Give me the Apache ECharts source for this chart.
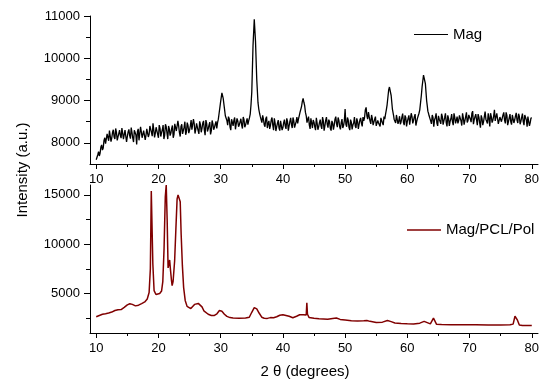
<!DOCTYPE html>
<html>
<head>
<meta charset="utf-8">
<script src="https://cdn.jsdelivr.net/npm/echarts@6/dist/echarts.min.js"></script>
<style>html,body{margin:0;padding:0;background:#fff}#c{width:556px;height:392px}</style>
</head>
<body>
<div id="c"></div>
<script>
// ---- data ----
const xMajorTicks = [10, 20, 30, 40, 50, 60, 70, 80];
const xMinorTicks = [15, 25, 35, 45, 55, 65, 75];
const magMajorTicks = [8000, 9000, 10000, 11000];
const magMinorTicks = [8500, 9500, 10500];
const compMajorTicks = [5000, 10000, 15000];
const compMinorTicks = [2500, 7500, 12500];
const seriesNames = ['Mag', 'Mag/PCL/Pol'];
const seriesColors = ['#000000', '#800000'];

// Mag pattern: [2θ, intensity] (main readings)
const magPointsA = [
[10,7600],[10.25,7720],[10.5,7690],[10.75,7900],[11,7830],[11.25,8060],[11.5,7980],[11.75,8210],
[12,8050],[12.25,8260],[12.5,8120],[12.75,8310],[13,8090],[13.25,8250],[13.5,8140],[13.75,8300],
[14,8110],[14.25,8230],[14.5,8060],[14.75,8270],[15,8150],[15.25,8320],[15.5,8100],[15.75,8240],
[16,8020],[16.25,8280],[16.5,7960],[16.75,8330],[17,8090],[17.25,8260],[17.5,8150],[17.75,8330],
[18,8180],[18.25,8370],[18.5,8200],[18.75,8440],[19,8160],[19.25,8310],[19.5,8230],[19.75,8410],
[20,8120],[20.25,8350],[20.5,8240],[20.75,8420],[21,8180],[21.25,8380],[21.5,8090],[21.75,8330],
[22,8230],[22.25,8410],[22.5,8200],[22.75,8470],[23,8260],[23.25,8400],[23.5,8150],[23.75,8440],
[24,8290],[24.25,8500],[24.5,8260],[24.75,8410],[25,8300],[25.25,8540],[25.5,8270],[25.75,8450],
[26,8320],[26.25,8490],[26.5,8210],[26.75,8430],[27,8340],[27.25,8520],[27.5,8180],[27.75,8460],
[28,8330],[28.25,8490],[28.5,8290],[28.75,8450],[29,8360],[29.25,8510],[29.5,8480],[29.75,8700],
[30,8980],[30.2,9180],[30.4,9060],[30.6,8820],[30.75,8640],[31,8530],[31.25,8620],[31.5,8380],
[31.75,8560],[32,8400],[32.25,8600],[32.5,8360],[32.75,8520],[33,8430],[33.25,8570],[33.5,8340],
[33.75,8550],[34,8420],[34.25,8580],[34.5,8520],[34.75,8680],[35,9200],[35.2,10300],[35.4,10920],
[35.6,10400],[35.8,9500],[36,8950],[36.25,8700],[36.5,8580],[36.75,8650],[37,8430],[37.25,8570],
[37.5,8350],[37.75,8520],[38,8410],[38.25,8600],[38.5,8300],[38.75,8470],[39,8380],[39.25,8540],
[39.5,8290],[39.75,8480],[40,8360],[40.25,8550],[40.5,8330],[40.75,8500],[41,8400],[41.25,8590],
[41.5,8350],[41.75,8520],[42,8430],[42.25,8610],[42.5,8560],[42.75,8720],[43,8860],[43.25,9050],
[43.5,8880],[43.75,8640],[44,8560],[44.25,8420],[44.5,8580],[44.75,8350],[45,8490],[45.25,8300],
[45.5,8470],[45.75,8380],[46,8550],[46.25,8330],[46.5,8520],[46.75,8400],[47,8610],[47.25,8360],
[47.5,8500],[47.75,8290],[48,8470],[48.25,8420],[48.5,8620],[48.75,8370],[49,8530],[49.25,8320],
[49.5,8560],[49.75,8410],[50,8800],[50.25,8380],[50.5,8540],[50.75,8300],[51,8490],[51.25,8420],
[51.5,8610],[51.75,8350],[52,8510],[52.25,8440],[52.5,8590],[52.75,8390],[53,8520],[53.25,8780],
[53.5,8640],[53.75,8730],[54,8520],[54.25,8660],[54.5,8420],[54.75,8560],[55,8400],[55.25,8530],
[55.5,8440],[55.75,8590],[56,8470],[56.25,8620],[56.5,8680],[56.75,8900],[57,9250],[57.2,9340],
[57.4,9120],[57.6,8800],[57.8,8640],[58,8520],[58.25,8660],[58.5,8450],[58.75,8630],[59,8500],
[59.25,8690],[59.5,8420],[59.75,8600],[60,8510],[60.25,8650],[60.5,8470],[60.75,8620],[61,8530],
[61.25,8680],[61.5,8500],[61.75,8640],[62,8780],[62.25,9120],[62.5,9480],[62.7,9640],[62.9,9400],
[63.1,9000],[63.3,8750],[63.5,8640],[63.75,8520],[64,8660],[64.25,8380],[64.5,8600],[64.75,8470],
[65,8640],[65.25,8510],[65.5,8690],[65.75,8430],[66,8600],[66.25,8480],[66.5,8650],[66.75,8400],
[67,8570],[67.25,8500],[67.5,8700],[67.75,8460],[68,8620],[68.25,8520],[68.5,8680],[68.75,8410],
[69,8590],[69.25,8470],[69.5,8720],[69.75,8530],[70,8640],[70.25,8490],[70.5,8750],[70.75,8550],
[71,8680],[71.25,8420],[71.5,8610],[71.75,8360],[72,8580],[72.25,8500],[72.5,8740],[72.75,8520],
[73,8700],[73.25,8390],[73.5,8620],[73.75,8540],[74,8780],[74.25,8560],[74.5,8690],[74.75,8480],
[75,8640],[75.25,8520],[75.5,8720],[75.75,8460],[76,8650],[76.25,8500],[76.5,8680],[76.75,8430],
[77,8620],[77.25,8540],[77.5,8710],[77.75,8470],[78,8630],[78.25,8510],[78.5,8690],[78.75,8420],
[79,8600],[79.25,8380],[79.5,8650],[79.75,8480],[80,8580]
];

// Mag pattern: in-between readings of the noisy band
const magPointsB = [
[10.125,7580],[10.375,7790],[10.625,7760],[10.875,7950],[11.125,7880],[11.375,8120],[11.625,8010],[11.875,8180],
[12.125,8290],[12.375,8030],[12.625,8250],[12.875,8140],[13.125,8340],[13.375,8060],[13.625,8220],[13.875,8180],
[14.125,8350],[14.375,8090],[14.625,8300],[14.875,8020],[15.125,8260],[15.375,8170],[15.625,8360],[15.875,8110],
[16.125,8300],[16.375,8190],[16.625,8270],[16.875,8060],[17.125,8380],[17.375,8120],[17.625,8290],[17.875,8070],
[18.125,8330],[18.375,8140],[18.625,8400],[18.875,8250],[19.125,8460],[19.375,8130],[19.625,8370],[19.875,8200],
[20.125,8420],[20.375,8150],[20.625,8310],[20.875,8090],[21.125,8440],[21.375,8230],[21.625,8400],[21.875,8170],
[22.125,8340],[22.375,8120],[22.625,8450],[22.875,8280],[23.125,8520],[23.375,8240],[23.625,8390],[23.875,8210],
[24.125,8370],[24.375,8190],[24.625,8480],[24.875,8230],[25.125,8400],[25.375,8310],[25.625,8560],[25.875,8220],
[26.125,8460],[26.375,8290],[26.625,8510],[26.875,8250],[27.125,8470],[27.375,8300],[27.625,8540],[27.875,8270],
[28.125,8420],[28.375,8200],[28.625,8530],[28.875,8310],[29.125,8440],[29.375,8340],[29.625,8560],[29.875,8840],
[30.875,8600],[31.125,8420],[31.375,8570],[31.625,8300],[31.875,8490],[32.125,8530],[32.375,8320],[32.625,8580],
[32.875,8380],[33.125,8500],[33.375,8420],[33.625,8610],[33.875,8370],[34.125,8460],[34.375,8430],[34.625,8590],
[34.875,8900],[36.125,8800],[36.375,8620],[36.625,8480],[36.875,8560],[37.125,8380],[37.375,8620],[37.625,8460],
[37.875,8330],[38.125,8540],[38.375,8420],[38.625,8580],[38.875,8280],[39.125,8460],[39.375,8350],[39.625,8520],
[39.875,8300],[40.125,8480],[40.375,8400],[40.625,8580],[40.875,8290],[41.125,8510],[41.375,8430],[41.625,8600],
[41.875,8360],[42.125,8500],[42.375,8460],[42.625,8640],[43.125,8980],[43.375,8960],[43.625,8720],[43.875,8480],
[44.125,8620],[44.375,8330],[44.625,8470],[44.875,8540],[45.125,8380],[45.375,8590],[45.625,8310],[45.875,8480],
[46.125,8400],[46.375,8610],[46.625,8290],[46.875,8530],[47.125,8440],[47.375,8550],[47.625,8340],[47.875,8520],
[48.125,8310],[48.375,8560],[48.625,8450],[48.875,8600],[49.125,8380],[49.375,8480],[49.625,8350],[49.875,8520],
[50.125,8440],[50.375,8600],[50.625,8360],[50.875,8550],[51.125,8320],[51.375,8470],[51.625,8400],[51.875,8580],
[52.125,8330],[52.375,8540],[52.625,8460],[52.875,8610],[53.125,8600],[53.375,8840],[53.625,8560],[53.875,8620],
[54.125,8450],[54.375,8570],[54.625,8390],[54.875,8620],[55.125,8360],[55.375,8470],[55.625,8390],[55.875,8530],
[56.125,8420],[56.375,8560],[56.625,8780],[57.125,9320],[57.875,8560],[58.125,8470],[58.375,8700],[58.625,8520],
[58.875,8440],[59.125,8610],[59.375,8480],[59.625,8650],[59.875,8390],[60.125,8580],[60.375,8430],[60.625,8700],
[60.875,8460],[61.125,8620],[61.375,8410],[61.625,8580],[61.875,8700],[62.125,8950],[62.375,9330],[62.6,9600],
[62.8,9560],[63,9200],[63.2,8880],[63.4,8700],[63.625,8580],[63.875,8450],[64.125,8600],[64.375,8540],
[64.625,8700],[64.875,8400],[65.125,8560],[65.375,8450],[65.625,8620],[65.875,8520],[66.125,8700],[66.375,8390],
[66.625,8580],[66.875,8510],[67.125,8680],[67.375,8420],[67.625,8600],[67.875,8540],[68.125,8460],[68.375,8650],
[68.625,8520],[68.875,8700],[69.125,8430],[69.375,8620],[69.625,8480],[69.875,8660],[70.125,8560],[70.375,8700],
[70.625,8440],[70.875,8620],[71.125,8540],[71.375,8680],[71.625,8470],[71.875,8650],[72.125,8420],[72.375,8620],
[72.625,8560],[72.875,8460],[73.125,8580],[73.375,8700],[73.625,8480],[73.875,8640],[74.125,8520],[74.375,8700],
[74.625,8450],[74.875,8610],[75.125,8500],[75.375,8660],[75.625,8540],[75.875,8720],[76.125,8420],[76.375,8590],
[76.625,8500],[76.875,8660],[77.125,8470],[77.375,8630],[77.625,8540],[77.875,8690],[78.125,8440],[78.375,8600],
[78.625,8500],[78.875,8660],[79.125,8540],[79.375,8620],[79.625,8400],[79.875,8590]
];

// Mag/PCL/Pol pattern: [2θ, intensity]
const compositePoints = [
[10,2650],[10.5,2780],[11,2900],[11.5,2960],[12,3030],[12.5,3120],[13,3280],[13.5,3350],[14,3380],
[14.5,3600],[15,3850],[15.4,3960],[15.8,3900],[16.3,3750],[16.8,3820],[17.3,3980],[17.8,4150],
[18.2,4450],[18.5,5100],[18.7,7500],[18.85,15400],[18.95,15300],[19.1,8000],[19.3,5300],[19.6,4900],
[19.9,4880],[20.2,5000],[20.5,5250],[20.7,6200],[20.9,9500],[21.1,14800],[21.25,16000],[21.4,12500],
[21.55,7600],[21.7,8000],[21.8,8400],[21.95,7300],[22.1,6300],[22.2,5800],[22.35,6200],[22.6,8300],
[22.8,11500],[23,14600],[23.15,15000],[23.35,15000],[23.5,14300],[23.65,11000],[23.85,7800],
[24.05,5600],[24.3,4300],[24.6,3700],[24.9,3500],[25.2,3480],[25.5,3650],[25.8,3900],[26.1,4100],
[26.4,4000],[26.7,3820],[27,3650],[27.3,3250],[27.6,3050],[28,2900],[28.5,2780],[29,2780],
[29.4,2950],[29.8,3280],[30.2,3200],[30.6,2900],[31,2680],[31.5,2560],[32,2520],[33,2500],
[34,2520],[34.6,2600],[35,3100],[35.4,3580],[35.8,3450],[36.2,3000],[36.6,2600],[37,2500],
[37.5,2480],[38,2560],[38.5,2540],[39,2650],[39.5,2800],[40,2850],[40.5,2780],[41,2700],
[41.6,2550],[42.2,2700],[42.7,2850],[43.3,2860],[43.75,2820],[43.85,4050],[43.95,2900],[44.2,2580],
[45,2500],[45.8,2440],[46.5,2420],[47.2,2400],[48,2480],[48.6,2520],[49.2,2380],[50,2320],
[51,2240],[52,2220],[53,2230],[53.5,2260],[54,2180],[55,2060],[56,2100],[56.8,2260],[57.4,2150],
[58,2020],[59,1960],[60,1930],[61,1920],[62,2000],[62.7,2180],[63.2,2050],[63.7,1920],[64,2100],
[64.2,2500],[64.4,2300],[64.7,1880],[65.5,1850],[67,1840],[69,1830],[71,1830],[73,1820],[75,1820],
[76.5,1830],[77,1900],[77.3,2700],[77.5,2800],[77.7,2300],[78,1800],[78.5,1760],[79.5,1760],[80,1750]
];

// merge the two Mag reading sets in 2θ order
const magPoints = magPointsA.concat(magPointsB).sort((a, b) => a[0] - b[0]);

// ---- chart ----
const FONT = '"Liberation Sans", Arial, sans-serif';
const axisColor = '#000';
const labelStyle = { color: '#000', fontSize: 13, fontFamily: FONT, formatter: v => String(v) };

function xAxisPair(gi) {
  return [
    { gridIndex: gi, type: 'value', min: 9, max: 81, position: 'bottom',
      axisLine: { show: true, onZero: false, lineStyle: { color: axisColor, width: 1 } },
      axisTick: { show: true, inside: false, length: 5, customValues: xMajorTicks, lineStyle: { color: axisColor } },
      axisLabel: { show: true, margin: 9, customValues: xMajorTicks, ...labelStyle },
      splitLine: { show: false } },
    { gridIndex: gi, type: 'value', min: 9, max: 81, position: 'bottom',
      axisLine: { show: false, onZero: false },
      axisTick: { show: true, inside: false, length: 3, customValues: xMinorTicks, lineStyle: { color: axisColor } },
      axisLabel: { show: false },
      splitLine: { show: false } }
  ];
}
function yAxisPair(gi, min, max, major, minor) {
  return [
    { gridIndex: gi, type: 'value', min: min, max: max, position: 'left',
      axisLine: { show: true, onZero: false, lineStyle: { color: axisColor, width: 1 } },
      axisTick: { show: true, inside: false, length: 6, customValues: major, lineStyle: { color: axisColor } },
      axisLabel: { show: true, margin: 10, customValues: major, ...labelStyle },
      splitLine: { show: false } },
    { gridIndex: gi, type: 'value', min: min, max: max, position: 'left',
      axisLine: { show: false, onZero: false },
      axisTick: { show: true, inside: false, length: 4, customValues: minor, lineStyle: { color: axisColor } },
      axisLabel: { show: false },
      splitLine: { show: false } }
  ];
}

function legendEntry(x, y, name, color, width) {
  return [
    { type: 'line', shape: { x1: x, y1: y, x2: x + 34, y2: y }, style: { stroke: color, lineWidth: width } },
    { type: 'text', x: x + 39, y: y, style: { text: name, fill: '#000', font: '15px ' + FONT, align: 'left', verticalAlign: 'middle' } }
  ];
}

const chart = echarts.init(document.getElementById('c'), null, { renderer: 'canvas' });
chart.setOption({
  animation: false,
  backgroundColor: '#fff',
  grid: [
    { left: 90, top: 16, width: 448, height: 148 },
    { left: 90, top: 185, width: 448, height: 148 }
  ],
  xAxis: [...xAxisPair(0), ...xAxisPair(1)],
  yAxis: [...yAxisPair(0, 7500, 11000, magMajorTicks, magMinorTicks),
          ...yAxisPair(1, 1000, 16000, compMajorTicks, compMinorTicks)],
  series: [
    { name: seriesNames[0], type: 'line', xAxisIndex: 0, yAxisIndex: 0, data: magPoints,
      symbol: 'none', showSymbol: false, color: seriesColors[0], lineStyle: { color: seriesColors[0], width: 1.3 } },
    { name: seriesNames[1], type: 'line', xAxisIndex: 2, yAxisIndex: 2, data: compositePoints,
      symbol: 'none', showSymbol: false, color: seriesColors[1], lineStyle: { color: seriesColors[1], width: 1.5 } }
  ],
  graphic: [
    ...legendEntry(414, 34.5, seriesNames[0], seriesColors[0], 1),
    ...legendEntry(407, 230, seriesNames[1], seriesColors[1], 1.5),
    { type: 'text', x: 23, y: 170, rotation: Math.PI / 2,
      style: { text: 'Intensity (a.u.)', fill: '#000', font: '15px ' + FONT, align: 'center', verticalAlign: 'middle' } },
    { type: 'text', x: 305, y: 372,
      style: { text: '2 θ (degrees)', fill: '#000', font: '15px ' + FONT, align: 'center', verticalAlign: 'middle' } }
  ]
});
</script>
</body>
</html>
